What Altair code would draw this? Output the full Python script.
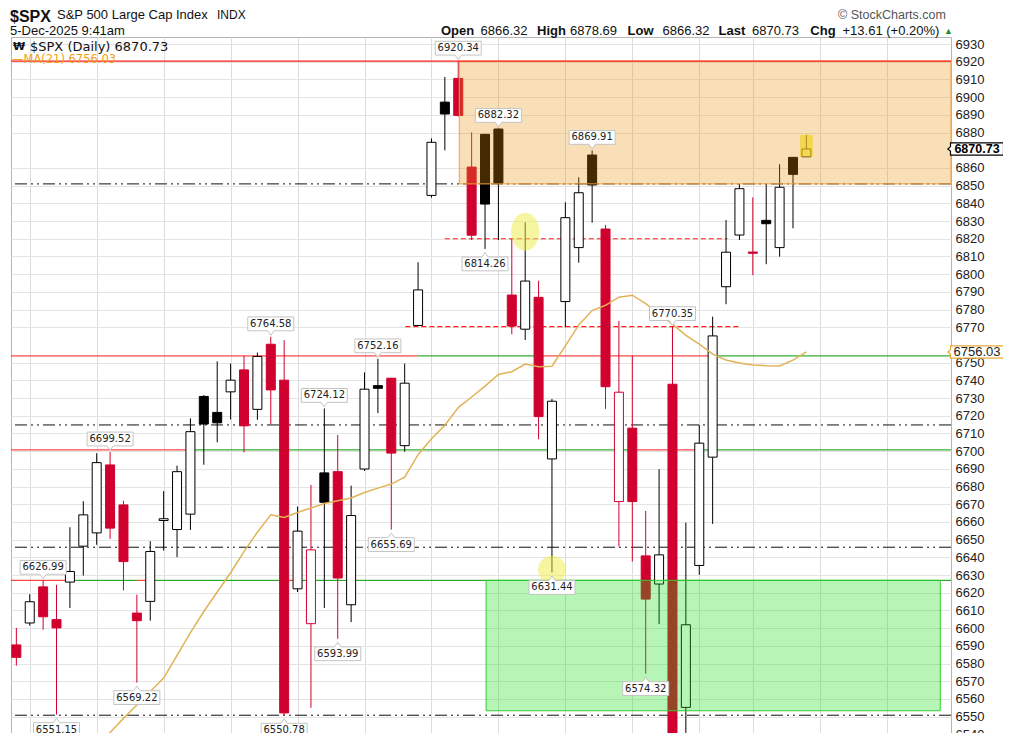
import altair as alt
import pandas as pd

# ---------------- data (daily candles, 12-Sep-2025 .. 5-Dec-2025) ----------------
OPEN = [6590.5, 6602.9, 6623.3, 6604.8, 6626.0, 6646.3, 6653.8, 6692.2, 6669.6, 6608.5,
        6615.1, 6660.8, 6655.7, 6664.4, 6730.9, 6721.9, 6733.5, 6745.9, 6723.6, 6760.4,
        6740.1, 6622.2, 6602.5, 6687.7, 6688.4, 6613.2, 6689.9, 6737.0, 6741.2, 6703.1,
        6771.0, 6844.5, 6897.2, 6910.6, 6860.5, 6879.0, 6882.0, 6788.2, 6768.9, 6786.9,
        6695.6, 6784.5, 6815.0, 6867.3, 6825.5, 6671.5, 6713.0, 6640.8, 6624.9, 6737.8,
        6555.2, 6635.4, 6696.6, 6792.9, 6822.1, 6812.5, 6830.4, 6815.0, 6866.0, 6866.32]
HIGH = [6600.1, 6619.2, 6626.99, 6624.5, 6657.0, 6671.7, 6698.8, 6699.52, 6672.0, 6618.9,
        6649.1, 6677.4, 6691.8, 6718.5, 6731.7, 6750.7, 6749.5, 6753.8, 6755.7, 6764.58,
        6762.7, 6668.7, 6680.9, 6724.12, 6709.1, 6680.5, 6744.5, 6752.16, 6741.2, 6749.5,
        6806.7, 6876.7, 6911.4, 6920.34, 6880.1, 6879.0, 6882.32, 6819.9, 6829.3, 6796.3,
        6729.5, 6840.6, 6854.7, 6869.91, 6827.8, 6773.6, 6753.8, 6666.2, 6689.8, 6770.35,
        6659.6, 6714.8, 6776.0, 6830.6, 6850.9, 6843.4, 6850.9, 6862.1, 6866.0, 6878.69]
LOW = [6578.8, 6601.4, 6599.1, 6551.15, 6611.4, 6629.7, 6647.1, 6650.4, 6621.3, 6569.22,
       6604.2, 6643.8, 6640.1, 6655.5, 6692.3, 6705.0, 6717.9, 6699.3, 6717.7, 6715.3,
       6550.78, 6620.4, 6555.0, 6611.4, 6593.99, 6603.4, 6688.8, 6721.5, 6655.69, 6699.7,
       6770.9, 6843.2, 6870.0, 6889.0, 6819.3, 6814.26, 6819.3, 6766.0, 6762.8, 6706.7,
       6631.44, 6770.0, 6806.5, 6829.1, 6723.9, 6646.1, 6637.6, 6574.32, 6602.3, 6536.0,
       6521.9, 6630.1, 6658.9, 6783.0, 6819.3, 6799.4, 6805.6, 6809.9, 6825.9, 6866.32]
CLOSE = [6583.5, 6614.9, 6606.4, 6600.1, 6632.0, 6664.0, 6693.5, 6656.5, 6637.6, 6604.2,
         6643.3, 6661.8, 6688.4, 6711.0, 6715.3, 6716.0, 6740.1, 6714.3, 6753.5, 6734.6,
         6552.1, 6654.8, 6644.2, 6671.1, 6628.3, 6663.6, 6735.0, 6735.5, 6698.9, 6738.4,
         6791.1, 6874.5, 6890.5, 6889.7, 6822.0, 6839.6, 6851.3, 6770.7, 6796.1, 6719.5,
         6728.2, 6831.9, 6846.0, 6850.4, 6736.4, 6733.3, 6671.5, 6616.4, 6641.4, 6538.8,
         6601.9, 6704.5, 6765.1, 6812.4, 6848.3, 6811.8, 6828.5, 6849.1, 6856.4, 6870.73]
MA21 = [6487.0, 6494.0, 6502.0, 6510.0, 6518.0, 6526.0, 6533.0, 6541.0, 6549.0, 6556.6,
        6564.2, 6571.8, 6584.6, 6597.5, 6609.4, 6620.4, 6631.3, 6643.2, 6654.2, 6664.0,
        6662.5, 6665.3, 6667.9, 6670.4, 6672.0, 6673.5, 6676.6, 6679.1, 6681.4, 6685.3,
        6698.0, 6707.0, 6714.6, 6724.6, 6730.6, 6736.7, 6743.3, 6744.9, 6749.2, 6747.7,
        6748.0, 6759.5, 6771.3, 6779.4, 6782.4, 6787.0, 6788.1, 6783.4, 6777.7, 6771.8,
        6765.4, 6760.4, 6754.8, 6751.5, 6749.8, 6748.7, 6748.3, 6748.1, 6751.4, 6756.03]
PREV_CLOSE = 6587.5
MONDAYS = [1, 6, 11, 16, 21, 26, 31, 36, 41, 46, 51, 55, 60, 65]
Y_TICKS = [v for v in range(6540, 6931, 10) if v not in (6760, 6870)]

# price callouts
LBL_IDX = [33, 36, 43, 35, 49, 19, 27, 23, 7, 28, 2, 24, 9, 3, 20, 40, 47]
LBL_VAL = [6920.34, 6882.32, 6869.91, 6814.26, 6770.35, 6764.58, 6752.16, 6724.12, 6699.52,
           6655.69, 6626.99, 6593.99, 6569.22, 6551.15, 6550.78, 6631.44, 6574.32]
LBL_SIDE = ['above', 'above', 'above', 'below', 'above', 'above', 'above', 'above', 'above',
            'below', 'above', 'below', 'below', 'below', 'below', 'below', 'below']

# horizontal annotation lines
DASHDOT_P = [6851.0, 6714.8, 6645.7, 6550.78]
TOP_P = [6920.34]
RED_P = [6753.8, 6753.8, 6700.7, 6700.7, 6627.0, 6627.0, 6627.0]
RED_I0 = [-0.4, 39.0, -0.4, 46.0, -0.4, 9.0, 19.9]
RED_I1 = [29.95, 52.0, 13.0, 51.3, 3.7, 10.0, 21.0]
GREEN_P = [6753.8, 6753.8, 6700.7, 6700.7, 6627.0, 6627.0, 6627.0]
GREEN_I0 = [29.95, 52.0, 13.0, 51.3, 3.7, 10.0, 21.0]
GREEN_I1 = [39.0, 69.8, 46.0, 69.8, 9.0, 19.9, 69.8]
RDASH_P = [6820.0, 6770.35]
RDASH_I0 = [32.0, 29.05]
RDASH_I1 = [53.1, 54.0]

# zones
ORANGE_ZONE = dict(i0=[33.08], i1=[69.8], p0=[6851.0], p1=[6920.34])
GREEN_ZONE = dict(i0=[35.08], i1=[69.0], p0=[6553.3], p1=[6627.0])

# highlight ellipses
CIRC_IDX = [38, 40]
CIRC_VAL = [6824.0, 6633.0]

# ---------------- build ----------------
RED = '#d0002f'
BLACK = '#000000'
n = len(OPEN)
prev = [PREV_CLOSE] + CLOSE[:-1]
df = pd.DataFrame({'i': list(range(n)), 'open': OPEN, 'high': HIGH, 'low': LOW,
                   'close': CLOSE, 'ma': MA21})
df['col'] = [RED if c < p else BLACK for c, p in zip(CLOSE, prev)]
df['fill'] = ['#ffffff' if c > o else col for c, o, col in zip(CLOSE, OPEN, df['col'])]

XS = alt.Scale(domain=[-0.4, 69.8], nice=False, zero=False, padding=0)
YS = alt.Scale(domain=[6530, 6934], nice=False, zero=False, padding=0)
XA = alt.Axis(values=MONDAYS, labels=False, ticks=False, domain=False, grid=True,
              gridColor='#dcdcdc', title=None)
YA = alt.Axis(orient='right', values=Y_TICKS, format='d', ticks=False, domain=False,
              grid=True, gridColor='#e4e4e4', labelFont='Liberation Sans', labelFontSize=13,
              labelColor='#222222', labelPadding=4, labelOverlap=False, title=None)


def X(f):
    return alt.X(f, type='quantitative', scale=XS, axis=XA)


def Y(f):
    return alt.Y(f, type='quantitative', scale=YS, axis=YA)


layers = []

# dash-dot lines
layers.append(alt.Chart(pd.DataFrame({'p': DASHDOT_P})).mark_rule(
    color='#111111', strokeWidth=1, strokeDash=[12, 4, 2, 4, 2, 4]).encode(y=Y('p')))
# green lines
layers.append(alt.Chart(pd.DataFrame({'p': GREEN_P, 'i0': GREEN_I0, 'i1': GREEN_I1})).mark_rule(
    color='#009900', strokeWidth=1).encode(x=X('i0'), x2='i1', y=Y('p')))
# red lines
layers.append(alt.Chart(pd.DataFrame({'p': RED_P, 'i0': RED_I0, 'i1': RED_I1})).mark_rule(
    color='#ff1a1a', strokeWidth=1).encode(x=X('i0'), x2='i1', y=Y('p')))
# red dashed
layers.append(alt.Chart(pd.DataFrame({'p': RDASH_P, 'i0': RDASH_I0, 'i1': RDASH_I1})).mark_rule(
    color='#ff1a1a', strokeWidth=1.2, strokeDash=[5, 3]).encode(x=X('i0'), x2='i1', y=Y('p')))

base = alt.Chart(df)
# wicks
layers.append(base.mark_rule(strokeWidth=1).encode(
    x=X('i'), y=Y('low'), y2='high', color=alt.Color('col:N', scale=None)))
# bodies
layers.append(base.mark_bar(size=9, strokeWidth=1).encode(
    x=X('i'), y=Y('open'), y2='close',
    fill=alt.Fill('fill:N', scale=None), stroke=alt.Stroke('col:N', scale=None)))

# zones (drawn over candles, translucent)
layers.append(alt.Chart(pd.DataFrame(ORANGE_ZONE)).mark_rect(
    fill='#e8900a', fillOpacity=0.29, stroke='#f0a040', strokeWidth=1).encode(
    x=X('i0'), x2='i1', y=Y('p0'), y2='p1'))
layers.append(alt.Chart(pd.DataFrame(GREEN_ZONE)).mark_rect(
    fill='#13df13', fillOpacity=0.31, stroke='#33cc33', strokeWidth=1).encode(
    x=X('i0'), x2='i1', y=Y('p0'), y2='p1'))

# top red line over the zone edge
layers.append(alt.Chart(pd.DataFrame({'p': TOP_P})).mark_rule(
    color='#ff1a1a', strokeWidth=1.2).encode(y=Y('p')))

# moving average
layers.append(base.mark_line(color='#e2b256', strokeWidth=1.5, clip=True).encode(
    x=X('i'), y=Y('ma')))

# yellow highlight ellipses
ELL = 'M-1,0A1,1,0,1,1,1,0A1,1,0,1,1,-1,0Z'
ELL_TALL = 'M-0.74,0A0.74,1,0,1,1,0.74,0A0.74,1,0,1,1,-0.74,0Z'
circ = pd.DataFrame({'i': CIRC_IDX, 'p': CIRC_VAL})
layers.append(alt.Chart(circ.iloc[[0]]).mark_point(
    shape=ELL_TALL, size=38 * 38, filled=True, fill='#eeee44', opacity=0.5, strokeWidth=0).encode(
    x=X('i'), y=Y('p')))
layers.append(alt.Chart(circ.iloc[[1]]).mark_point(
    shape=ELL, size=28 * 28, filled=True, fill='#eeee44', opacity=0.5, strokeWidth=0).encode(
    x=X('i'), y=Y('p')))

# last candle highlight
layers.append(alt.Chart(df.iloc[[n - 1]]).mark_bar(size=13, color='#f2cf10', opacity=0.6).encode(
    x=X('i'), y=Y('low'), y2='high'))

# price callouts
lbl = pd.DataFrame({'i': LBL_IDX, 'p': LBL_VAL, 'side': LBL_SIDE})
lbl['t'] = [f'{v:.2f}' for v in LBL_VAL]
up = lbl[lbl.side == 'above']
dn = lbl[lbl.side == 'below']
BOX_UP = 'M-1,-0.3L1,-0.3L1,0.3L0.14,0.3L0,0.5L-0.14,0.3L-1,0.3Z'
BOX_DN = 'M-1,-0.3L-0.14,-0.3L0,-0.5L0.14,-0.3L1,-0.3L1,0.3L-1,0.3Z'
for d, shape, off in [(up, BOX_UP, -13), (dn, BOX_DN, 15)]:
    c = alt.Chart(d)
    layers.append(c.mark_point(shape=shape, size=46 * 46, filled=True, fill='#ffffff',
                               stroke='#c4c4c4', strokeWidth=1, opacity=1, yOffset=off).encode(
        x=X('i'), y=Y('p')))
    layers.append(c.mark_text(font='DejaVu Sans', fontSize=10, color='#222222', dy=off,
                              baseline='middle', align='center').encode(
        x=X('i'), y=Y('p'), text='t:N'))

# right side price boxes
PBOX = 'M-1,-0.23L1,-0.23L1,0.23L-1,0.23L-1,0.09L-1.1,0L-1,-0.09Z'
last = pd.DataFrame({'p': [CLOSE[-1]], 't': [f'{CLOSE[-1]:.2f}']})
mal = pd.DataFrame({'p': [MA21[-1]], 't': [f'{MA21[-1]:.2f}']})
layers.append(alt.Chart(mal).mark_point(shape=PBOX, size=53 * 53, filled=True, fill='#ffffff',
                                        stroke='#e8a838', strokeWidth=1.2, opacity=1).encode(
    x=alt.value(966), y=Y('p')))
layers.append(alt.Chart(mal).mark_text(font='Liberation Sans', fontSize=13, color='#222222',
                                       align='center', baseline='middle').encode(
    x=alt.value(966), y=Y('p'), text='t:N'))
layers.append(alt.Chart(last).mark_point(shape=PBOX, size=53 * 53, filled=True, fill='#ffffff',
                                         stroke='#000000', strokeWidth=1.2, opacity=1).encode(
    x=alt.value(966), y=Y('p')))
layers.append(alt.Chart(last).mark_text(font='Liberation Sans', fontSize=12.5, fontWeight='bold',
                                        color='#000000', align='center', baseline='middle').encode(
    x=alt.value(966), y=Y('p'), text='t:N'))


def T(s, x, y, size=13, weight='normal', color='#111111', font='Liberation Sans'):
    return alt.Chart(pd.DataFrame({'t': [s]})).mark_text(
        align='left', baseline='middle', font=font, fontSize=size, fontWeight=weight,
        color=color).encode(x=alt.value(x), y=alt.value(y), text='t:N')


hdr = [
    ('$SPX', -1, -20.5, 16, 'bold', '#111111'),
    ('S&P 500 Large Cap Index', 46, -22, 13, 'normal', '#111111'),
    ('INDX', 206, -22, 12, 'normal', '#111111'),
    ('\u00a9 StockCharts.com', 827, -22, 12.5, 'normal', '#555555'),
    ('5-Dec-2025 9:41am', -1, -6.5, 13, 'normal', '#111111'),
    ('Open', 430, -6.5, 13, 'bold', '#111111'),
    (f'{OPEN[-1]:.2f}', 469.5, -6.5, 13, 'normal', '#111111'),
    ('High', 526, -6.5, 13, 'bold', '#111111'),
    (f'{HIGH[-1]:.2f}', 559, -6.5, 13, 'normal', '#111111'),
    ('Low', 616.5, -6.5, 13, 'bold', '#111111'),
    (f'{LOW[-1]:.2f}', 651.5, -6.5, 13, 'normal', '#111111'),
    ('Last', 707.6, -6.5, 13, 'bold', '#111111'),
    (f'{CLOSE[-1]:.2f}', 741, -6.5, 13, 'normal', '#111111'),
    ('Chg', 799.3, -6.5, 13, 'bold', '#111111'),
    ('+13.61 (+0.20%)', 831.5, -6.5, 13, 'normal', '#111111'),
    ('\u25b2', 933, -6.5, 9, 'normal', '#2e8b2e'),
]
for s, x, y, sz, w, col in hdr:
    layers.append(T(s, x, y, sz, w, col))

# legend inside plot
layers.append(T('\u20a9', 2, 9.7, 11, 'bold', '#111111', 'DejaVu Sans'))
layers.append(T(f'$SPX (Daily) {CLOSE[-1]:.2f}', 19, 9.7, 13, 'normal', '#111111', 'DejaVu Sans'))
layers.append(T(f'\u2014MA(21) {MA21[-1]:.2f}', 1, 23, 11.5, 'normal', '#f0a020', 'DejaVu Sans'))

chart = alt.layer(*layers).properties(
    width=940, height=715,
    autosize=alt.AutoSizeParams(type='none'),
    padding={'left': 3, 'top': 29, 'right': 52, 'bottom': 10},
).configure_view(stroke='#b5b5b5', strokeWidth=1)

chart.save('out.html', embed_options={'renderer': 'svg', 'actions': False})
